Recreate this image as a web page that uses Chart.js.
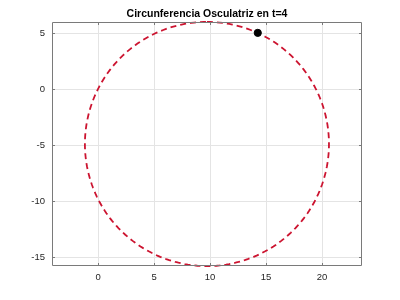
<!DOCTYPE html>
<html>
<head>
<meta charset="utf-8">
<script src="https://cdn.jsdelivr.net/npm/chart.js@4.4.1/dist/chart.umd.min.js"></script>
<style>
html,body{margin:0;padding:0;background:#fff;}
#wrap{width:400px;height:300px;}
</style>
</head>
<body>
<div id="wrap"><canvas id="c" width="400" height="300"></canvas></div>
<script>
// Data
const titleText = "Circunferencia Osculatriz en t=4";
const circleCenter = [9.72, -4.89];   // x, y
const circleRadius = [10.9];
const pointX = [14.26];
const pointY = [5.03];
const xTicks = [0, 5, 10, 15, 20];
const yTicks = [-15, -10, -5, 0, 5];
const xLimits = [-4.12, 23.57];
const yLimits = [-15.78, 6.0];

// Circle sampled from its center and radius
const circlePts = [];
const N = 240;
for (let i = 0; i <= N; i++) {
  const a = Math.PI / 2 - 2 * Math.PI * i / N;
  circlePts.push({x: circleCenter[0] + circleRadius[0] * Math.cos(a),
                  y: circleCenter[1] + circleRadius[0] * Math.sin(a)});
}
const pointData = pointX.map((x, i) => ({x: x, y: pointY[i]}));

const FONT = "'Liberation Sans', Arial, Helvetica, sans-serif";

const boxPlugin = {
  id: 'box',
  afterDraw(chart) {
    const {ctx, chartArea: a, scales} = chart;
    ctx.save();
    ctx.strokeStyle = '#7a7a7a';
    ctx.lineWidth = 1;
    ctx.beginPath();
    ctx.rect(Math.round(a.left) + 0.5, Math.round(a.top) + 0.5,
             Math.round(a.right - a.left) - 1, Math.round(a.bottom - a.top) - 1);
    ctx.stroke();
    const L = 3;
    ctx.beginPath();
    xTicks.forEach(v => {
      const px = Math.round(scales.x.getPixelForValue(v)) + 0.5;
      ctx.moveTo(px, a.bottom); ctx.lineTo(px, a.bottom - L);
      ctx.moveTo(px, a.top); ctx.lineTo(px, a.top + L);
    });
    yTicks.forEach(v => {
      const py = Math.round(scales.y.getPixelForValue(v)) + 0.5;
      ctx.moveTo(a.left, py); ctx.lineTo(a.left + L, py);
      ctx.moveTo(a.right, py); ctx.lineTo(a.right - L, py);
    });
    ctx.stroke();
    ctx.restore();
  }
};

new Chart(document.getElementById('c'), {
  type: 'scatter',
  data: {
    datasets: [
      {
        data: circlePts,
        showLine: true,
        borderColor: '#cc1430',
        borderWidth: 1.8,
        borderDash: [6, 4],
        pointRadius: 0,
        fill: false,
        tension: 0,
        clip: 4,
        order: 2
      },
      {
        data: pointData,
        pointRadius: 3.6,
        pointBackgroundColor: '#000',
        pointBorderColor: '#000',
        showLine: false,
        order: 1
      }
    ]
  },
  options: {
    responsive: false,
    animation: false,
    events: [],
    layout: {padding: {left: 0, right: 38, top: 0, bottom: 0}},
    plugins: {
      legend: {display: false},
      tooltip: {enabled: false},
      title: {
        display: true,
        text: titleText,
        fullSize: false,
        color: '#000',
        font: {family: FONT, size: 10.5, weight: 'bold'},
        padding: {top: 7.7, bottom: 1.7}
      }
    },
    scales: {
      x: {
        type: 'linear',
        min: xLimits[0], max: xLimits[1],
        afterBuildTicks: s => { s.ticks = xTicks.map(v => ({value: v})); },
        afterFit: s => { s.height = 34; },
        grid: {color: '#e4e4e4', drawTicks: false, lineWidth: 1},
        border: {display: false},
        ticks: {color: '#262626', font: {family: FONT, size: 9.5}, padding: 6, maxRotation: 0}
      },
      y: {
        type: 'linear',
        min: yLimits[0], max: yLimits[1],
        afterBuildTicks: s => { s.ticks = yTicks.map(v => ({value: v})); },
        afterFit: s => { s.width = 52; },
        grid: {color: '#e4e4e4', drawTicks: false, lineWidth: 1},
        border: {display: false},
        ticks: {color: '#262626', font: {family: FONT, size: 9.5}, padding: 7}
      }
    }
  },
  plugins: [boxPlugin]
});
</script>
</body>
</html>
